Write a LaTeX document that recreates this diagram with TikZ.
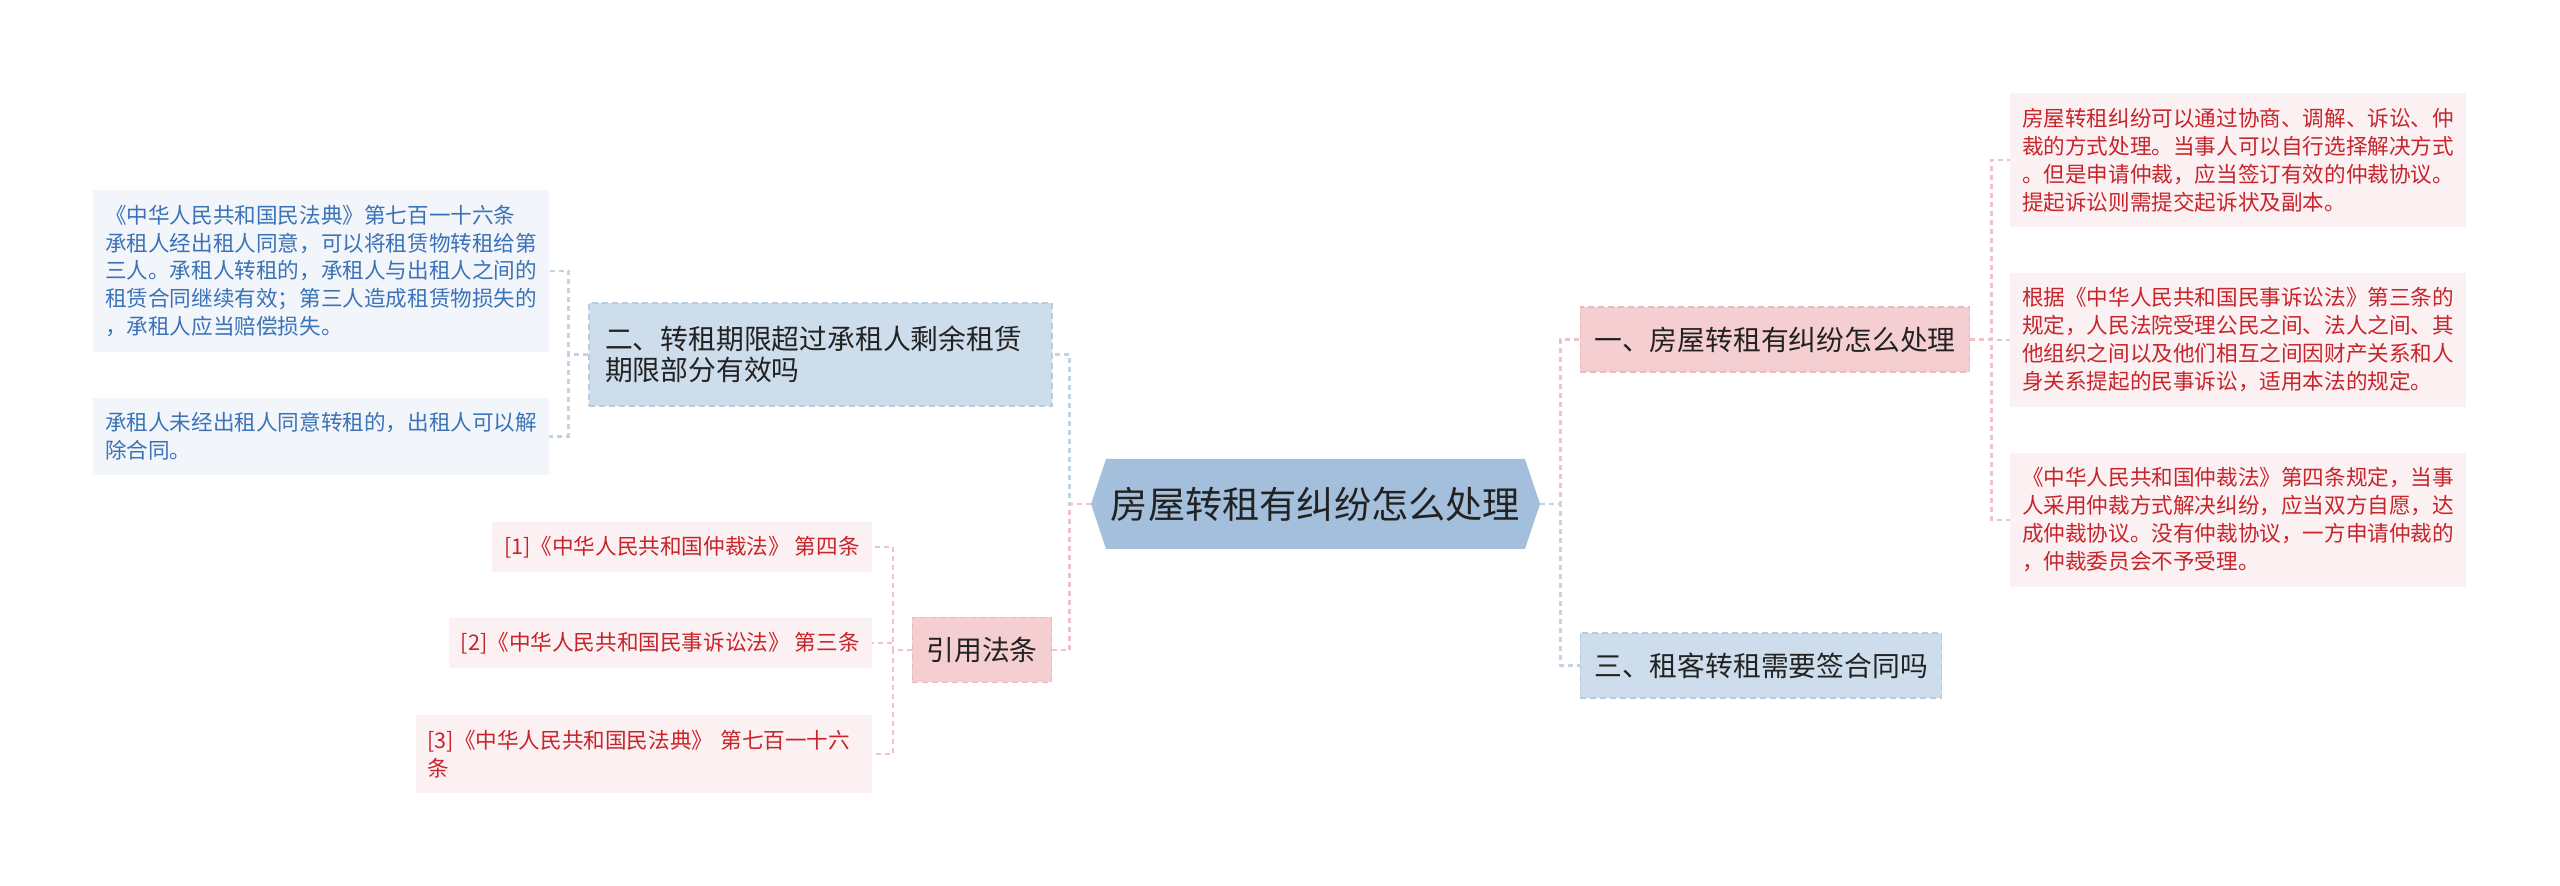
\documentclass[tikz,border=0pt]{standalone}
\usepackage{fontspec}
\setmainfont{Noto Sans CJK SC}
\usepackage{tikz}
\usepackage{xcolor}
\usetikzlibrary{shapes.symbols}
\definecolor{hexblue}{HTML}{A3BFDC}
\definecolor{subblue}{HTML}{CDDDEC}
\definecolor{subblueline}{HTML}{B7CBE0}
\definecolor{subpink}{HTML}{F5CED1}
\definecolor{subpinkline}{HTML}{EBBABF}
\definecolor{leafblue}{HTML}{F2F6FB}
\definecolor{leafbluetext}{HTML}{3B72B8}
\definecolor{leafpink}{HTML}{FCF1F2}
\definecolor{leafpinktext}{HTML}{C7242B}
\definecolor{linkblue}{HTML}{C3D3E6}
\definecolor{linkpink}{HTML}{F0C1C6}
\definecolor{darktext}{HTML}{222222}

\begin{document}
\begin{tikzpicture}[x=0.5pt,y=-0.5pt,every node/.style={inner sep=0pt},
  rootbox/.style={shape=signal,signal to=west and east,signal pointer angle=143,fill=hexblue,
    minimum width=224.5pt,minimum height=45pt,text=darktext,font=\fontsize{18.6pt}{22pt}\selectfont},
  subbox/.style={minimum height=32.5pt,inner xsep=7pt,text=darktext,
    dash pattern=on 3pt off 2pt,line width=0.6pt,font=\fontsize{13.9pt}{15.5pt}\selectfont},
  subb/.style={subbox,fill=subblue,draw=subblueline},
  subp/.style={subbox,fill=subpink,draw=subpinkline},
  leafb/.style={fill=leafblue,text=leafbluetext,text width=216pt,align=left,inner xsep=6pt,
    font=\fontsize{10.8pt}{13.9pt}\selectfont},
  leafp/.style={fill=leafpink,text=leafpinktext,inner xsep=6pt,align=left,
    font=\fontsize{10.8pt}{14pt}\selectfont},
  link/.style={dash pattern=on 2.5pt off 2pt,line width=1.2pt},
  linkb/.style={link,draw=linkblue},
  linkp/.style={link,draw=linkpink}]
\useasboundingbox (0,0) rectangle (2560,886);

\node[rootbox] (root) at (1315.5,504) {房屋转租有纠纷怎么处理};

\node[subp] (sub1) at (1775,339.5) {一、房屋转租有纠纷怎么处理};
\node[subb,text width=215.5pt,align=left,inner xsep=8pt,minimum height=51.5pt] (sub2) at (820.5,354.5)
  {二、转租期限超过承租人剩余租赁\\期限部分有效吗};
\node[subb] (sub3) at (1761,665.5) {三、租客转租需要签合同吗};
\node[subp] (cite) at (982,650) {引用法条};

\node[leafp,text width=216pt,minimum height=67pt] (note1) at (2238,160)
  {房屋转租纠纷可以通过协商、调解、诉讼、仲\\裁的方式处理。当事人可以自行选择解决方式\\。但是申请仲裁，应当签订有效的仲裁协议。\\提起诉讼则需提交起诉状及副本。};
\node[leafp,text width=216pt,minimum height=67pt] (note2) at (2238,340)
  {根据《中华人民共和国民事诉讼法》第三条的\\规定，人民法院受理公民之间、法人之间、其\\他组织之间以及他们相互之间因财产关系和人\\身关系提起的民事诉讼，适用本法的规定。};
\node[leafp,text width=216pt,minimum height=67pt] (note3) at (2238,520)
  {《中华人民共和国仲裁法》第四条规定，当事\\人采用仲裁方式解决纠纷，应当双方自愿，达\\成仲裁协议。没有仲裁协议，一方申请仲裁的\\，仲裁委员会不予受理。};

\node[leafb,minimum height=81pt] (law1) at (321,271)
  {《中华人民共和国民法典》第七百一十六条\\承租人经出租人同意，可以将租赁物转租给第\\三人。承租人转租的，承租人与出租人之间的\\租赁合同继续有效；第三人造成租赁物损失的\\，承租人应当赔偿损失。};
\node[leafb,minimum height=38.5pt] (law2) at (321,436.5)
  {承租人未经出租人同意转租的，出租人可以解\\除合同。};

\node[leafp,anchor=east,minimum height=25pt] (ref1) at (872,547) {[1]《中华人民共和国仲裁法》 第四条};
\node[leafp,anchor=east,minimum height=25pt] (ref2) at (872,643) {[2]《中华人民共和国民事诉讼法》 第三条};
\node[leafp,anchor=east,text width=216pt,minimum height=39pt] (ref3) at (872,754)
  {[3]《中华人民共和国民法典》 第七百一十六\\条};

\draw[linkb] (root.west) -- ++(-21,0) |- (sub2.east);
\draw[linkp] (root.west) -- ++(-21,0) |- (cite.east);
\draw[linkp] (root.east) -- ++(20,0) |- (sub1.west);
\draw[linkb] (root.east) -- ++(20,0) |- (sub3.west);

\draw[linkp] (sub1.east) -- ++(21,0) |- (note1.west);
\draw[linkp] (sub1.east) -- ++(21,0) |- (note2.west);
\draw[linkp] (sub1.east) -- ++(21,0) |- (note3.west);

\draw[linkb] (sub2.west) -- ++(-20,0) |- (law1.east);
\draw[linkb] (sub2.west) -- ++(-20,0) |- (law2.east);

\draw[linkp] (cite.west) -- ++(-19,0) |- (ref1.east);
\draw[linkp] (cite.west) -- ++(-19,0) |- (ref2.east);
\draw[linkp] (cite.west) -- ++(-19,0) |- (ref3.east);
\end{tikzpicture}
\end{document}
